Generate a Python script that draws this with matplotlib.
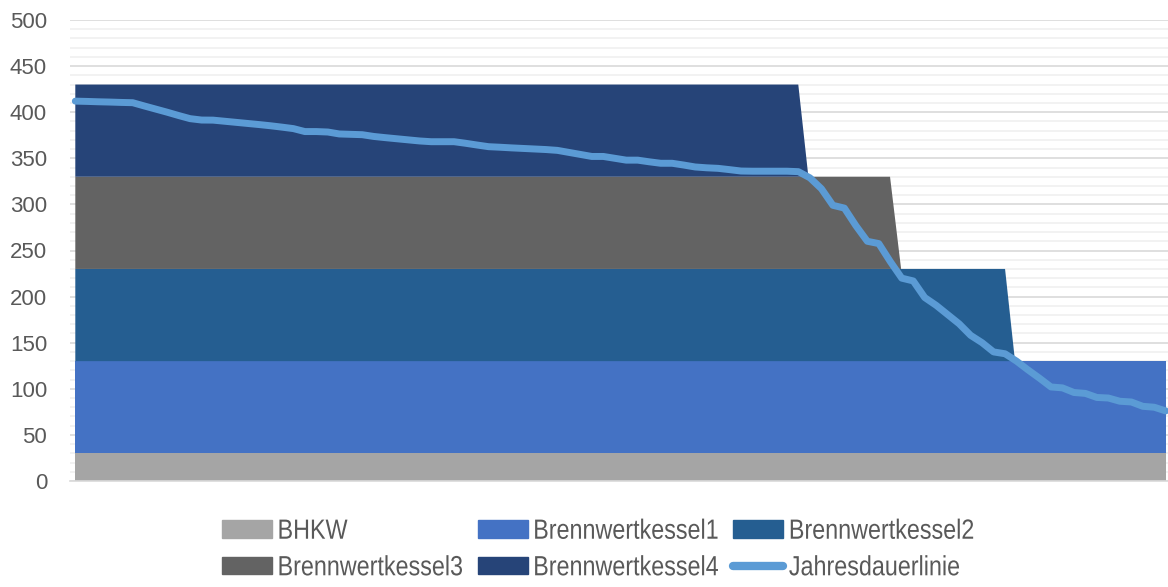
import matplotlib
matplotlib.use('Agg')
import matplotlib.pyplot as plt
from matplotlib.lines import Line2D
from matplotlib.patches import Patch
from matplotlib.patheffects import AbstractPathEffect
from matplotlib.transforms import Affine2D
import numpy as np

# Stundenpunkte der Erzeugerflächen (Jahresstunden)
area_hours = [0, 5808, 5889, 6545, 6634, 7469, 7549, 8760]

# Leistung der einzelnen Erzeuger in kW an den Stundenpunkten
bhkw = [30, 30, 30, 30, 30, 30, 30, 30]
bwk1 = [100, 100, 100, 100, 100, 100, 100, 100]
bwk2 = [100, 100, 100, 100, 100, 100, 0, 0]
bwk3 = [100, 100, 100, 100, 0, 0, 0, 0]
bwk4 = [100, 100, 0, 0, 0, 0, 0, 0]

# Jahresdauerlinie (kW), gleichmäßig über das Jahr verteilt
dauerlinie = [
    412, 411.7, 411.3, 411, 410.6, 410.3, 406.8, 403.4, 400, 396.4,
    393, 391.5, 391.4, 390.2, 389, 387.8, 386.6, 385.3, 383.8, 382.2,
    379, 379, 378.5, 376.4, 376, 375.6, 373.7, 372.4, 371.2, 370,
    368.8, 368, 368, 368, 366.3, 364.4, 362.6, 362, 361.3, 360.7,
    360.1, 359.5, 358.6, 356.4, 354.2, 352, 352, 350, 348, 348,
    346.2, 344.6, 344.6, 342.7, 340.6, 339.7, 339.1, 337.7, 336.2, 336,
    336, 336, 336, 335.5, 328.8, 317, 299, 296, 277, 260,
    257.5, 238, 220, 217, 199, 190.5, 180.5, 170.5, 158, 150,
    140, 138, 130, 120.5, 111.5, 102, 101, 96, 95, 90.6,
    90, 86.5, 85.7, 81, 80, 76,
]

labels = ['BHKW', 'Brennwertkessel1', 'Brennwertkessel2',
          'Brennwertkessel3', 'Brennwertkessel4', 'Jahresdauerlinie']
colors = ['#A5A5A5', '#4472C4', '#255E91', '#636363', '#264478']
line_color = '#5B9BD5'
text_color = '#595959'


class Condensed(AbstractPathEffect):
    """Schmalschrift: Textpfad horizontal stauchen."""

    def __init__(self, factor):
        super().__init__()
        self.factor = factor

    def draw_path(self, renderer, gc, tpath, affine, rgbFace=None):
        affine = Affine2D().scale(self.factor, 1.0) + affine
        renderer.draw_path(gc, tpath, affine, rgbFace)


fig = plt.figure(figsize=(11.68, 5.87), dpi=100)
ax = fig.add_axes([70 / 1168, 106 / 587, 1098 / 1168, 461 / 587])

# gestapelte Flächen der Erzeuger
ax.stackplot(area_hours, bhkw, bwk1, bwk2, bwk3, bwk4, colors=colors,
             linewidth=0, zorder=2)

# Jahresdauerlinie darüber
line_hours = np.linspace(0, 8760, len(dauerlinie))
ax.plot(line_hours, dauerlinie, color=line_color, linewidth=5,
        solid_capstyle='round', solid_joinstyle='round', zorder=3)

ax.set_xlim(-42.6, 8778)
ax.set_ylim(0, 500)

# Gitterlinien: alle 50 kräftiger, alle 10 hell
ax.set_yticks(np.arange(0, 501, 50))
ax.set_yticks(np.arange(0, 501, 10), minor=True)
ax.grid(axis='y', which='major', color='#D9D9D9', linewidth=1.2, zorder=0)
ax.grid(axis='y', which='minor', color='#F0F0F0', linewidth=1.2, zorder=0)
ax.set_axisbelow(True)
ax.set_xticks([])
for side in ['top', 'right', 'left']:
    ax.spines[side].set_visible(False)
ax.spines['bottom'].set_color('#D9D9D9')
ax.spines['bottom'].set_linewidth(1.2)

ax.tick_params(axis='y', which='both', length=0, pad=16.5,
               labelsize=16, labelcolor=text_color)
for lbl in ax.get_yticklabels():
    lbl.set_fontfamily(['Liberation Sans', 'DejaVu Sans'])

# Legende zeilenweise: Spalten werden in matplotlib von oben nach unten gefüllt
handles = [Patch(color=c) for c in colors]
handles.append(Line2D([0], [0], color=line_color, linewidth=6,
                      solid_capstyle='round'))
order = [0, 3, 1, 4, 2, 5]
leg = fig.legend([handles[i] for i in order], [labels[i] for i in order],
                 ncol=3, loc='center left',
                 bbox_to_anchor=(222 / 1168, 1 - 550 / 587),
                 frameon=False, borderpad=0, borderaxespad=0,
                 handlelength=1.8, handleheight=0.58, handletextpad=0.2,
                 columnspacing=-0.73, labelspacing=0.38,
                 prop={'family': ['Liberation Sans', 'DejaVu Sans'],
                       'size': 20})
for t in leg.get_texts():
    t.set_color(text_color)
    t.set_path_effects([Condensed(0.84)])

fig.savefig('out.png', dpi=100)
